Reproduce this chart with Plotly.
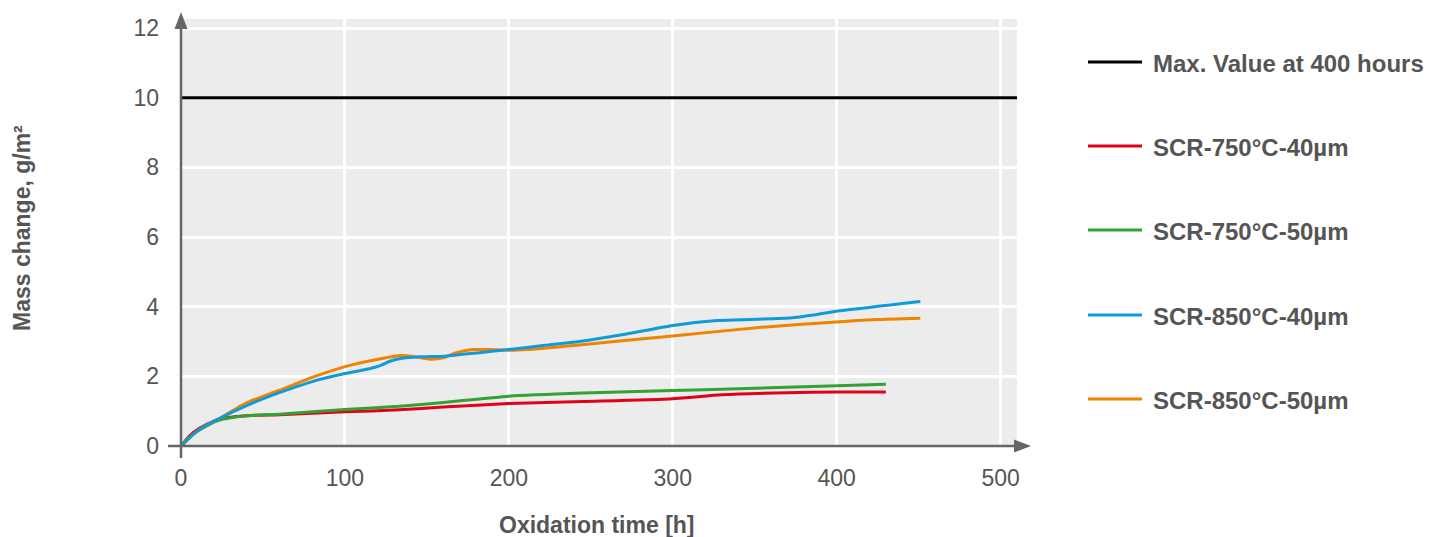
import plotly.graph_objects as go

# ---------------- data ----------------
max_label = "Max. Value at 400 hours"
max_x = [0, 510]
max_y = [10, 10]

red_label = "SCR-750°C-40µm"
red_t = [0, 5, 11, 23, 40, 60, 100, 133, 160, 200, 245, 300, 330, 370, 400, 430]
red_v = [0, 0.28, 0.5, 0.77, 0.87, 0.9, 0.98, 1.04, 1.12, 1.22, 1.28, 1.36, 1.47, 1.53, 1.55, 1.55]

green_label = "SCR-750°C-50µm"
green_t = [0, 5, 11, 23, 40, 60, 100, 133, 160, 200, 245, 300, 350, 400, 430]
green_v = [0, 0.24, 0.45, 0.74, 0.87, 0.91, 1.05, 1.14, 1.25, 1.43, 1.52, 1.59, 1.66, 1.73, 1.77]

blue_label = "SCR-850°C-40µm"
blue_t = [0, 11, 23, 40, 60, 80, 100, 115, 121, 128, 134, 146, 161, 182, 200, 222, 243, 270, 300, 327, 373, 402, 451]
blue_v = [0, 0.47, 0.78, 1.16, 1.53, 1.85, 2.08, 2.22, 2.3, 2.44, 2.51, 2.56, 2.58, 2.68, 2.77, 2.89, 3.0, 3.2, 3.46, 3.6, 3.68, 3.88, 4.15]

orange_label = "SCR-850°C-50µm"
orange_t = [0, 11, 23, 40, 60, 80, 100, 121, 134, 142, 152, 160, 168, 178, 188, 200, 222, 243, 300, 357, 402, 424, 451]
orange_v = [0, 0.47, 0.78, 1.24, 1.6, 1.97, 2.28, 2.5, 2.6, 2.57, 2.49, 2.53, 2.68, 2.77, 2.77, 2.75, 2.81, 2.9, 3.16, 3.42, 3.57, 3.63, 3.67]

x_ticks = [0, 100, 200, 300, 400, 500]
y_ticks = [0, 2, 4, 6, 8, 10, 12]
x_title = "Oxidation time [h]"
y_title = "Mass change, g/m²"

# ---------------- layout geometry ----------------
OFF = 8  # page body margin
W, H = 1440 - 2 * OFF, 537 - OFF
L, R, T, B = 181, 1017, 19, 446  # plot area box, reference pixels
TXT = "#555555"
AX = "#666666"
FONT = "Liberation Sans, Arial, Helvetica, sans-serif"


def px(x):
    return (x - L) / (R - L)


def py(y):
    return (B - y) / (B - T)


series = [
    (max_label, max_x, max_y, "#000000", "linear"),
    (red_label, red_t, red_v, "#e2001a", "spline"),
    (green_label, green_t, green_v, "#34a232", "spline"),
    (orange_label, orange_t, orange_v, "#f08300", "spline"),
    (blue_label, blue_t, blue_v, "#0f9bd7", "spline"),
]

fig = go.Figure()
for name, xs, ys, col, shp in series:
    fig.add_trace(go.Scatter(
        x=xs, y=ys, mode="lines", name=name,
        line=dict(color=col, width=3, shape=shp, smoothing=0.6),
        showlegend=False, cliponaxis=False,
    ))

shapes = []
annotations = []

# axis lines with arrows
shapes.append(dict(type="line", xref="paper", yref="paper",
                   x0=px(168), x1=px(1018), y0=py(B), y1=py(B),
                   line=dict(color=AX, width=2.5), layer="above"))
shapes.append(dict(type="line", xref="paper", yref="paper",
                   x0=px(L), x1=px(L), y0=py(458), y1=py(24),
                   line=dict(color=AX, width=2.5), layer="above"))
shapes.append(dict(type="path", xref="paper", yref="paper",
                   path=f"M {px(1031)} {py(B)} L {px(1014)} {py(B-6.5)} L {px(1014)} {py(B+6.5)} Z",
                   fillcolor=AX, line=dict(color=AX, width=0), layer="above"))
shapes.append(dict(type="path", xref="paper", yref="paper",
                   path=f"M {px(L)} {py(12)} L {px(L-6.5)} {py(29)} L {px(L+6.5)} {py(29)} Z",
                   fillcolor=AX, line=dict(color=AX, width=0), layer="above"))

# manual legend
leg_y = [62, 146, 230, 315, 399]
order = [0, 1, 2, 4, 3]
for yy, idx in zip(leg_y, order):
    name, _, _, col, _ = series[idx]
    shapes.append(dict(type="line", xref="paper", yref="paper",
                       x0=px(1088), x1=px(1142), y0=py(yy), y1=py(yy),
                       line=dict(color=col, width=3)))
    annotations.append(dict(xref="paper", yref="paper", x=px(1151), y=py(yy + 1),
                            text=f"<b>{name}</b>", showarrow=False,
                            xanchor="left", yanchor="middle",
                            font=dict(size=24, color=TXT, family=FONT)))

# axis titles
annotations.append(dict(xref="paper", yref="paper", x=px(597), y=py(525),
                        text=f"<b>{x_title}</b>", showarrow=False,
                        xanchor="center", yanchor="middle",
                        font=dict(size=23, color=TXT, family=FONT)))
annotations.append(dict(xref="paper", yref="paper", x=px(22), y=py(228),
                        text=f"<b>{y_title}</b>", showarrow=False, textangle=-90,
                        xanchor="center", yanchor="middle",
                        font=dict(size=23, color=TXT, family=FONT)))

fig.update_layout(
    width=W, height=H,
    margin=dict(l=L - OFF, r=W - (R - OFF), t=T - OFF, b=H - (B - OFF), pad=0,
                autoexpand=False),
    paper_bgcolor="white",
    plot_bgcolor="#ebeceb",
    font=dict(family=FONT, color=TXT, size=22),
    shapes=shapes,
    annotations=annotations,
    showlegend=False,
    xaxis=dict(range=[0, 510], tickvals=x_ticks, ticktext=[str(v) for v in x_ticks],
               showgrid=True, gridcolor="white", gridwidth=2.5,
               zeroline=False, showline=False, ticks="", automargin=False,
               ticklabelstandoff=16, tickfont=dict(size=23, color=TXT, family=FONT),
               fixedrange=True),
    yaxis=dict(range=[0, 12.26], tickvals=y_ticks, ticktext=[str(v) for v in y_ticks],
               showgrid=True, gridcolor="white", gridwidth=2.5,
               zeroline=False, showline=False, ticks="", automargin=False,
               ticklabelstandoff=21, tickfont=dict(size=23, color=TXT, family=FONT),
               fixedrange=True),
)

fig.write_html("out.html")
